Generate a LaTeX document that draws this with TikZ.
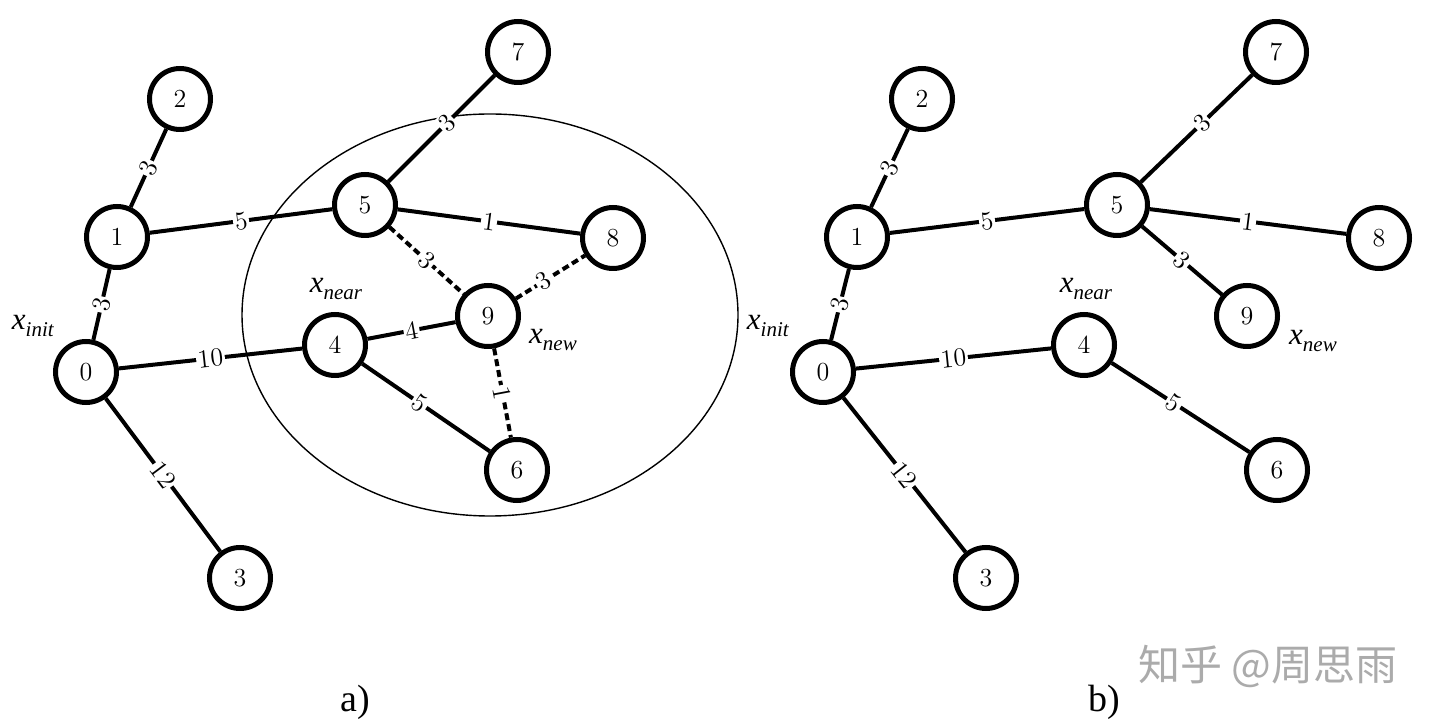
\documentclass[tikz,border=0pt]{standalone}
\usepackage{fontspec}
\newfontfamily\timesfont{Liberation Serif}
\newfontfamily\cjkfont{Noto Sans CJK SC}
\newcommand{\xl}[1]{\textit{x}\raisebox{-3.5pt}{\fontsize{10.5}{10.5}\selectfont\textit{#1}}}
\begin{document}
\begin{tikzpicture}[x=0.5pt,y=-0.5pt,
  vtx/.style={circle,draw,line width=2.5pt,minimum size=30.5pt,inner sep=0pt,fill=white,font=\fontsize{13}{13}\selectfont},
  lnk/.style={line width=2pt},
  dlnk/.style={line width=2pt,dash pattern=on 3.5pt off 2pt},
  wt/.style={sloped,fill=white,inner sep=0.8pt,font=\fontsize{13}{13}\selectfont},
  lbl/.style={inner sep=0pt,font=\timesfont\fontsize{15.5}{15.5}\selectfont},
  captxt/.style={inner sep=0pt,font=\timesfont\fontsize{19}{19}\selectfont},
  wm/.style={inner sep=0pt,text=black!33,font=\cjkfont\fontsize{21}{21}\selectfont}
]
\useasboundingbox (0,0) rectangle (1440,726);

% ---------- panel a ----------
\draw[line width=0.7pt] (490,315) ellipse [x radius=248, y radius=201];

\node[vtx] (a0) at (86,372) {0};
\node[vtx] (a1) at (117,237) {1};
\node[vtx] (a2) at (180,99) {2};
\node[vtx] (a3) at (240,578) {3};
\node[vtx] (a4) at (335,345) {4};
\node[vtx] (a5) at (365,205) {5};
\node[vtx] (a6) at (517,470) {6};
\node[vtx] (a7) at (518,52) {7};
\node[vtx] (a8) at (613,238) {8};
\node[vtx] (a9) at (488,316) {9};

\draw[lnk] (a1) -- node[wt]{3} (a2);
\draw[lnk] (a0) -- node[wt]{3} (a1);
\draw[lnk] (a1) -- node[wt]{5} (a5);
\draw[lnk] (a0) -- node[wt]{10} (a4);
\draw[lnk] (a0) -- node[wt]{12} (a3);
\draw[lnk] (a5) -- node[wt,pos=0.55]{3} (a7);
\draw[lnk] (a5) -- node[wt]{1} (a8);
\draw[lnk] (a4) -- node[wt]{4} (a9);
\draw[lnk] (a4) -- node[wt,pos=0.45]{5} (a6);
\draw[dlnk] (a5) -- node[wt]{3} (a9);
\draw[dlnk] (a9) -- node[wt,pos=0.4]{3} (a8);
\draw[dlnk] (a9) -- node[wt]{1} (a6);

\node[lbl] (ainit) at (33,326) {\xl{init}};
\node[lbl] (anear) at (336,289) {\xl{near}};
\node[lbl] (anew) at (553,340) {\xl{new}};
\node[captxt] (capa) at (355,702) {a)};

% ---------- panel b ----------
\node[vtx] (b0) at (823,372) {0};
\node[vtx] (b1) at (857,237) {1};
\node[vtx] (b2) at (922,99) {2};
\node[vtx] (b3) at (986,578) {3};
\node[vtx] (b4) at (1084,345) {4};
\node[vtx] (b5) at (1117,205) {5};
\node[vtx] (b6) at (1277,470) {6};
\node[vtx] (b7) at (1276,52) {7};
\node[vtx] (b8) at (1379,238) {8};
\node[vtx] (b9) at (1247,316) {9};

\draw[lnk] (b1) -- node[wt]{3} (b2);
\draw[lnk] (b0) -- node[wt]{3} (b1);
\draw[lnk] (b1) -- node[wt]{5} (b5);
\draw[lnk] (b0) -- node[wt]{10} (b4);
\draw[lnk] (b0) -- node[wt]{12} (b3);
\draw[lnk] (b5) -- node[wt,pos=0.55]{3} (b7);
\draw[lnk] (b5) -- node[wt]{1} (b8);
\draw[lnk] (b5) -- node[wt]{3} (b9);
\draw[lnk] (b4) -- node[wt,pos=0.45]{5} (b6);

\node[lbl] (binit) at (768,326) {\xl{init}};
\node[lbl] (bnear) at (1086,289) {\xl{near}};
\node[lbl] (bnew) at (1313,341) {\xl{new}};
\node[captxt] (capb) at (1104,702) {b)};

\node[wm] (mark) at (1268,666) {知乎 @周思雨};
\end{tikzpicture}
\end{document}
